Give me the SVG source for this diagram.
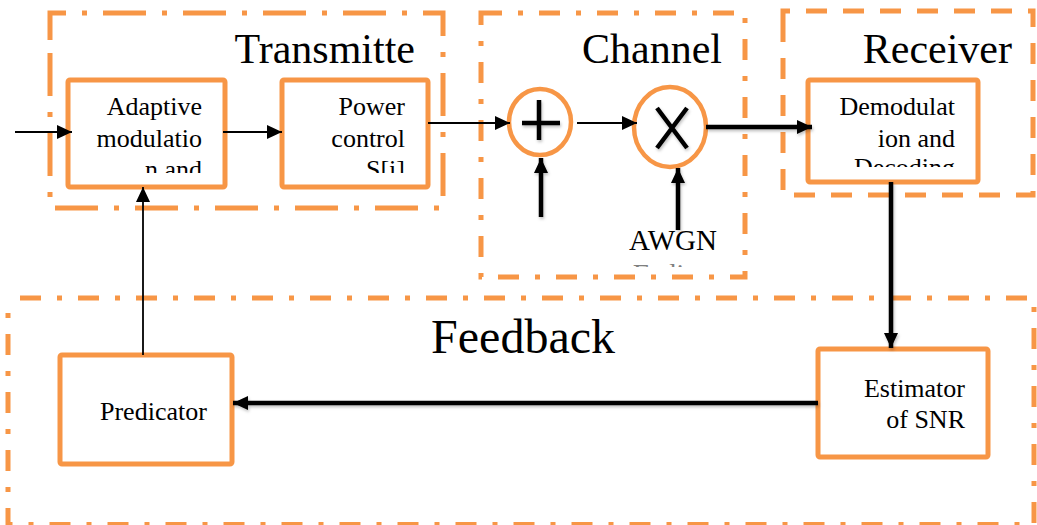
<svg xmlns="http://www.w3.org/2000/svg" width="1037" height="525" viewBox="0 0 1037 525">
  <style>
    .frame { fill: none; stroke: #F79646; stroke-width: 5; }
    .dashdot-long { stroke-dasharray: 43 16 5 16; }
    .dashdot { stroke-dasharray: 21 16 5 16; }
    .dashed { stroke-dasharray: 21 16; }
    .block { fill: #fff; stroke: #F79646; stroke-width: 5; }
    .ring { fill: #fff; stroke: #F79646; stroke-width: 4.5; }
    .title { font-family: "Liberation Serif", "Times New Roman", serif; font-size: 42px; fill: #000; }
    .label { font-family: "Liberation Serif", "Times New Roman", serif; font-size: 26px; fill: #000; }
    .thin { stroke: #000; stroke-width: 1.8; fill: none; }
    .thick { stroke: #000; stroke-width: 4.5; fill: none; }
    .glyph { stroke: #000; stroke-width: 4.5; fill: none; }
  </style>
  <defs>
    <marker id="head" markerUnits="userSpaceOnUse" markerWidth="16" markerHeight="15" refX="15" refY="7" orient="auto">
      <path d="M0,0 L15,7 L0,14 z" fill="#000"/>
    </marker>
    <filter id="shade" x="-20%" y="-20%" width="140%" height="140%">
      <feDropShadow dx="1" dy="2" stdDeviation="1.5" flood-color="#000" flood-opacity="0.25"/>
    </filter>
    <clipPath id="clipAdaptive"><rect x="60" y="80" width="170" height="93"/></clipPath>
    <clipPath id="clipPower"><rect x="280" y="80" width="150" height="93"/></clipPath>
    <clipPath id="clipDemod"><rect x="808" y="80" width="170" height="87"/></clipPath>
    <clipPath id="clipNoise"><rect x="600" y="220" width="140" height="47"/></clipPath>
  </defs>

  <!-- section frames -->
  <g id="transmitter">
    <path class="frame dashdot-long" d="M50,40 V13 H443 V208 H50 Z"/>
    <text class="title" x="415" y="63" text-anchor="end">Transmitte</text>
  </g>
  <g id="channel">
    <path class="frame dashdot" d="M481,13 H745 V277 H481 Z"/>
    <text class="title" x="722" y="63" text-anchor="end">Channel</text>
  </g>
  <g id="receiver">
    <path class="frame dashed" d="M783,25 V11 H1033 V195 H783 Z"/>
    <text class="title" x="1012" y="63" text-anchor="end">Receiver</text>
  </g>
  <g id="feedback">
    <path class="frame dashdot" d="M20,298 H1034 V524.5 H8 V298"/>
    <text class="title" x="615" y="353" text-anchor="end" style="font-size:48px">Feedback</text>
  </g>

  <!-- processing blocks -->
  <g id="adaptive-modulation">
    <rect class="block" x="68" y="80" width="157" height="107" rx="2"/>
    <g clip-path="url(#clipAdaptive)">
      <text class="label" text-anchor="end"><tspan x="202" y="115">Adaptive</tspan><tspan x="202" y="147">modulatio</tspan><tspan x="202" y="178">n and</tspan></text>
    </g>
  </g>
  <g id="power-control">
    <rect class="block" x="282" y="80" width="146" height="107" rx="2"/>
    <g clip-path="url(#clipPower)">
      <text class="label" text-anchor="end"><tspan x="405" y="115">Power</tspan><tspan x="405" y="147">control</tspan><tspan x="405" y="178">S[i]</tspan></text>
    </g>
  </g>
  <g id="adder">
    <ellipse class="ring" cx="540" cy="122" rx="31" ry="33"/>
    <path class="glyph" filter="url(#shade)" d="M522,123 H560 M539,100 V140"/>
  </g>
  <g id="multiplier">
    <ellipse class="ring" cx="670" cy="127" rx="36" ry="40"/>
    <path class="glyph" filter="url(#shade)" d="M657,108 L687,148 M687,108 L657,148"/>
  </g>
  <g id="awgn">
    <text class="label" x="673" y="250" text-anchor="middle" style="font-size:29px">AWGN</text>
    <g clip-path="url(#clipNoise)">
      <text class="label" x="673" y="284" text-anchor="middle" style="font-size:29px" fill-opacity="0.5">Fading</text>
    </g>
  </g>
  <g id="demodulation">
    <rect class="block" x="808" y="80" width="170" height="102" rx="2"/>
    <g clip-path="url(#clipDemod)">
      <text class="label" text-anchor="end"><tspan x="955" y="115">Demodulat</tspan><tspan x="955" y="147">ion and</tspan><tspan x="955" y="176">Decoding</tspan></text>
    </g>
  </g>
  <g id="estimator">
    <rect class="block" x="818" y="349" width="170" height="108" rx="2"/>
    <text class="label" text-anchor="end"><tspan x="965" y="397">Estimator</tspan><tspan x="965" y="428">of SNR</tspan></text>
  </g>
  <g id="predicator">
    <rect class="block" x="60" y="355" width="172" height="109" rx="2"/>
    <text class="label" x="100" y="420">Predicator</text>
  </g>

  <!-- connectors -->
  <g id="connectors">
    <line class="thin" x1="15" y1="132" x2="72" y2="132" marker-end="url(#head)"/>
    <line class="thin" x1="223" y1="132" x2="282" y2="132" marker-end="url(#head)"/>
    <line class="thin" x1="428" y1="123" x2="510" y2="123" marker-end="url(#head)"/>
    <line class="thin" x1="577" y1="123" x2="637" y2="123" marker-end="url(#head)"/>
    <g filter="url(#shade)">
      <line class="thick" x1="541" y1="217" x2="541" y2="158" marker-end="url(#head)"/>
      <line class="thick" x1="678" y1="230" x2="678" y2="168" marker-end="url(#head)"/>
      <line class="thick" x1="706" y1="127" x2="812" y2="127" marker-end="url(#head)"/>
      <line class="thick" x1="891" y1="182" x2="891" y2="348" marker-end="url(#head)"/>
      <line class="thick" x1="818" y1="403" x2="233" y2="403" marker-end="url(#head)"/>
    </g>
    <line class="thin" x1="143" y1="355" x2="143" y2="187" marker-end="url(#head)"/>
  </g>
</svg>
